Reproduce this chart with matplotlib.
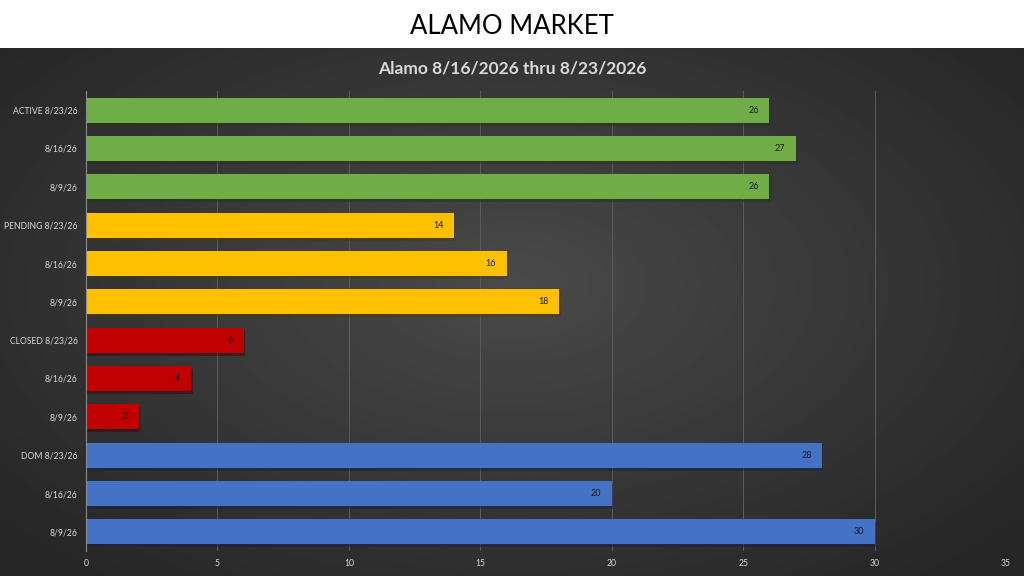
import numpy as np
import matplotlib
matplotlib.use("Agg")
import matplotlib.pyplot as plt
import matplotlib.patheffects as pe

plt.rcParams["font.family"] = ["Lato", "DejaVu Sans"]

# chart data, top to bottom
labels = ["ACTIVE 8/23/26", "8/16/26", "8/9/26",
          "PENDING 8/23/26", "8/16/26", "8/9/26",
          "CLOSED 8/23/26", "8/16/26", "8/9/26",
          "DOM 8/23/26", "8/16/26", "8/9/26"]
values = [26, 27, 26, 14, 16, 18, 6, 4, 2, 28, 20, 30]
group_colors = ["#70AD47", "#FFC000", "#C00000", "#4472C4"]
x_ticks = [0, 5, 10, 15, 20, 25, 30, 35]

fig = plt.figure(figsize=(10.24, 5.76), dpi=100)
fig.patch.set_facecolor("white")

# dark radial gradient background below the white title band
band = 48 / 576
bg = fig.add_axes([0, 0, 1, 1 - band])
yy, xx = np.mgrid[-1:1:300j, -1:1:500j]
r = np.sqrt((xx / 1.0) ** 2 + ((yy + 0.1) / 1.1) ** 2)
shade = np.clip(1 - r / 1.3, 0, 1)
img = 0.15 + 0.14 * shade
bg.imshow(img, cmap="gray", vmin=0, vmax=1, aspect="auto", extent=[0, 1, 0, 1])
bg.set_axis_off()

fig.text(0.5, 1 - 27 / 576, "ALAMO MARKET", ha="center", va="center",
         fontsize=18.5, color="black")
fig.text(0.5, 1 - 69 / 576, "Alamo 8/16/2026 thru 8/23/2026", ha="center",
         va="center", fontsize=12.5, fontweight="bold", color="#d9d9d9")

ax = fig.add_axes([86 / 1024, 25 / 576, 920 / 1024, 460 / 576])
ax.patch.set_alpha(0)

pos = np.arange(len(values))
colors = [group_colors[i // 3] for i in range(len(values))]
bars = ax.barh(pos, values, height=0.66, color=colors, zorder=3)
for b in bars:
    b.set_path_effects([pe.SimplePatchShadow(offset=(1, -2), alpha=0.45),
                        pe.Normal()])
for b, v in zip(bars, values):
    ax.text(v - 0.4, b.get_y() + b.get_height() / 2, str(v), ha="right",
            va="center", fontsize=6.5, color="#1a1a1a", zorder=4)

ax.set_ylim(len(values) - 0.5, -0.5)
ax.set_xlim(0, 35)
ax.set_yticks(pos)
ax.set_yticklabels(labels)
ax.set_xticks(x_ticks)
ax.tick_params(colors="#d9d9d9", labelsize=6.2, length=0, pad=6)
ax.xaxis.grid(True, color="#5c5c5c", linewidth=0.7, zorder=0)
for s in ["top", "right", "bottom"]:
    ax.spines[s].set_visible(False)
ax.spines["left"].set_color("#8c8c8c")
ax.spines["left"].set_zorder(5)

fig.savefig("out.png", dpi=100)
